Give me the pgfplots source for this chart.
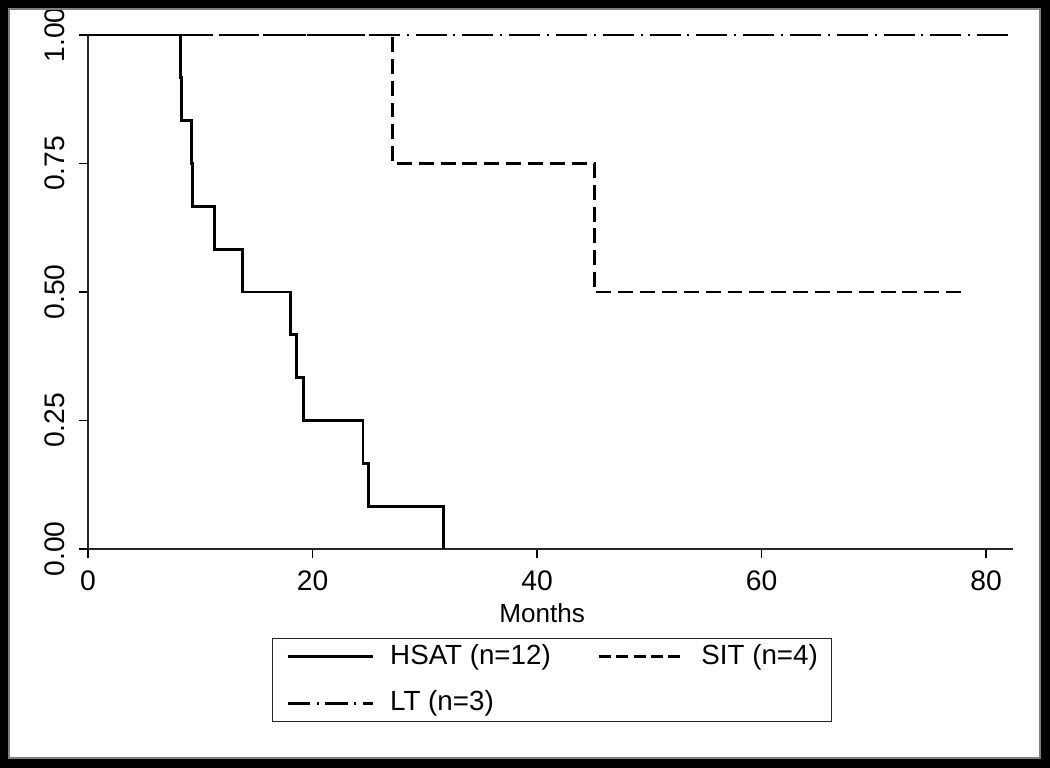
\documentclass[border=0pt]{standalone}
\usepackage{pgfplots}
\pgfplotsset{compat=1.18}
\usepackage{fontspec}
\setmainfont{Liberation Sans}

\begin{document}
\begin{tikzpicture}
\useasboundingbox (0,0) rectangle (393.75pt,288pt);
\fill[white] (0,0) rectangle (393.75pt,288pt);
\begin{axis}[
  at={(33pt,82.125pt)}, anchor=south west,
  scale only axis, width=346.875pt, height=192.75pt,
  xmin=0, xmax=82.4, ymin=0, ymax=1,
  axis x line=bottom, axis y line=left,
  axis line style={-, line width=0.7pt, color=black!85},
  xtick={0,20,40,60,80},
  ytick={0,0.25,0.5,0.75,1},
  yticklabels={0.00,0.25,0.50,0.75,1.00},
  tick align=outside, major tick length=3.5pt,
  tick style={line width=0.5pt, black},
  ticklabel style={font=\fontsize{10.6}{12}\selectfont},
  /pgf/number format/assume math mode=true,
  yticklabel style={xshift=-1.7pt, rotate=90, anchor=south},
  xticklabel style={yshift=-1.3pt},
  xlabel={Months},
  xlabel style={at={(axis description cs:0.491,-0.1245)}, anchor=center,
    font=\fontsize{9.8}{11}\selectfont},
  legend columns=2,
  legend cell align=left,
  legend style={at={(0.1989,-0.1732)}, anchor=north west,
    draw=black!85, line width=0.5pt, inner xsep=5.2pt, inner ysep=1.7pt,
    font=\fontsize{10.4}{12}\selectfont, row sep=7.5pt,
    nodes={inner xsep=0pt, inner ysep=0pt, text height=7.8pt, text depth=2.3pt},
    /tikz/every odd column/.style={column sep=6pt},
    /tikz/every even column/.style={column sep=17.6pt}},
  legend image code/.code={\draw[#1, line width=0.9pt] (0pt,0pt) -- (32pt,0pt);},
  clip=false,
]
\addplot[black, line width=1.1pt, forget plot] coordinates {
  (0,1)(8.2,1)(8.2,0.9167)(8.3,0.9167)(8.3,0.8333)(9.2,0.8333)(9.2,0.75)
  (9.3,0.75)(9.3,0.6667)(11.3,0.6667)(11.3,0.5833)(13.8,0.5833)(13.8,0.5)
  (18.0,0.5)(18.0,0.4167)(18.6,0.4167)(18.6,0.3333)(19.2,0.3333)(19.2,0.25)
  (24.5,0.25)(24.5,0.1667)(25.0,0.1667)(25.0,0.0833)(31.7,0.0833)(31.7,0)};
\addplot[black, line width=1.1pt, dash pattern=on 5.6pt off 2.6pt, forget plot] coordinates {
  (0,1)(27.1,1)(27.1,0.75)(45.1,0.75)(45.1,0.5)(78.1,0.5)};
\addplot[black, line width=1.1pt, dash pattern=on 11.6pt off 2.6pt on 0.75pt off 2.6pt, forget plot] coordinates {
  (0,1)(82.4,1)};
\addlegendimage{black}
\addlegendentry{HSAT (n=12)}
\addlegendimage{black, dash pattern=on 4.5pt off 2pt}
\addlegendentry{SIT (n=4)}
\addlegendimage{black, dash pattern=on 8.5pt off 2.4pt on 0.75pt off 2.4pt}
\addlegendentry{LT (n=3)}
\end{axis}
\fill[black, even odd rule] (0,0) rectangle (393.75pt,288pt)
  (3.375pt,3.75pt) rectangle (390pt,284.625pt);
\draw[gray, line width=0.4pt] (3.375pt,3.75pt) rectangle (390pt,284.625pt);
\end{tikzpicture}
\end{document}
